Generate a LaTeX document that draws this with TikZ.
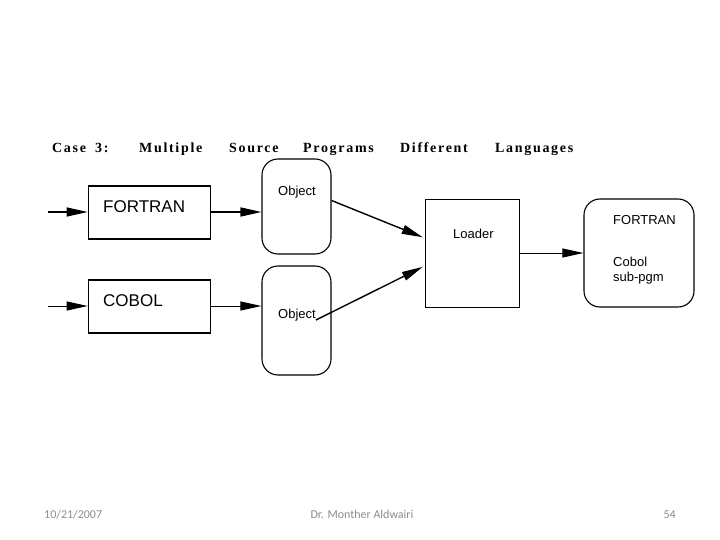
\documentclass[tikz,border=0pt]{standalone}
\usepackage{fontspec}
\setmainfont{Liberation Sans}
\newfontfamily\titlefont[LetterSpace=12]{Liberation Serif}
\newfontfamily\footfont{Carlito}
\usetikzlibrary{arrows.meta}
\definecolor{footgray}{HTML}{8C8C8C}
\tikzset{
  srcbox/.style={draw, line width=1.6pt, minimum width=122pt, minimum height=53pt, inner sep=0pt},
  objbox/.style={draw, rounded corners=16pt, line width=1.1pt, minimum width=69pt, inner sep=0pt},
  lbl/.style={anchor=base west, inner sep=0pt, font=\fontsize{13}{15}\selectfont},
  biglbl/.style={anchor=base west, inner sep=0pt, font=\fontsize{17}{20}\selectfont},
  arr/.style={-{Triangle[length=21pt,width=9pt]}},
  foot/.style={inner sep=0pt, text=footgray, font=\footfont\fontsize{12}{14}\selectfont},
}
\begin{document}
\begin{tikzpicture}[x=1pt,y=-1pt]
    \path[fill=white,use as bounding box] (0,0) rectangle (720,540);
    % title
    \foreach \w/\x in {Case/52, 3:/95, Multiple/139, Source/229, Programs/303, Different/400, Languages/495}
        \node[anchor=base west, inner sep=0pt, font=\titlefont\bfseries\fontsize{14}{16}\selectfont]
            (title-\x) at (\x,153) {\w};
    % boxes
    \node[srcbox] (fortran) at (149.5,212.5) {};
    \node[srcbox] (cobol) at (149.5,306.5) {};
    \node[objbox, minimum height=95pt] (obj1) at (296.5,206.5) {};
    \node[objbox, minimum height=109pt] (obj2) at (296.5,320.5) {};
    \node[draw, line width=0.9pt, minimum width=94pt, minimum height=108pt, inner sep=0pt] (loader) at (472,253) {};
    \node[objbox, minimum width=110pt, minimum height=108pt] (result) at (639,253) {};
    % texts
    \node[biglbl] (fortrantxt) at (103,212) {FORTRAN};
    \node[biglbl] (coboltxt) at (103,306) {COBOL};
    \node[lbl] (obj1txt) at (278,196) {Object};
    \node[lbl] (obj2txt) at (278,318) {Object};
    \node[lbl] (loadertxt) at (453,239) {Loader};
    \node[lbl] (restxt1) at (613,225) {FORTRAN};
    \node[lbl] (restxt2) at (613,266) {Cobol};
    \node[lbl] (restxt3) at (613,281) {sub-pgm};
    % connectors
    \coordinate (in1) at (48,212);
    \coordinate (in2) at (48,306);
    \draw[arr, line width=1.3pt] (in1) -- (in1 -| fortran.west);
    \draw[arr, line width=1pt] (in2) -- (in2 -| cobol.west);
    \draw[arr, line width=1.6pt] (in1 -| fortran.east) -- (in1 -| obj1.west);
    \draw[arr, line width=1pt] (in2 -| cobol.east) -- (in2 -| obj2.west);
    \draw[arr, line width=1.4pt, shorten >=2pt] ([yshift=6pt]obj1.east) -- ([yshift=15pt]loader.west);
    \draw[arr, line width=1.4pt, shorten >=2pt] ([yshift=-2pt]obj2txt.base east) -- ([yshift=-13pt]loader.west);
    \draw[arr, line width=1pt] (loader.east) -- (result.west);
    % footer
    \node[foot, anchor=base west] (date) at (44,518) {10/21/2007};
    \node[foot, anchor=base] (author) at (362,518) {Dr. Monther Aldwairi};
    \node[foot, anchor=base east] (page) at (676,518) {54};
\end{tikzpicture}
\end{document}
